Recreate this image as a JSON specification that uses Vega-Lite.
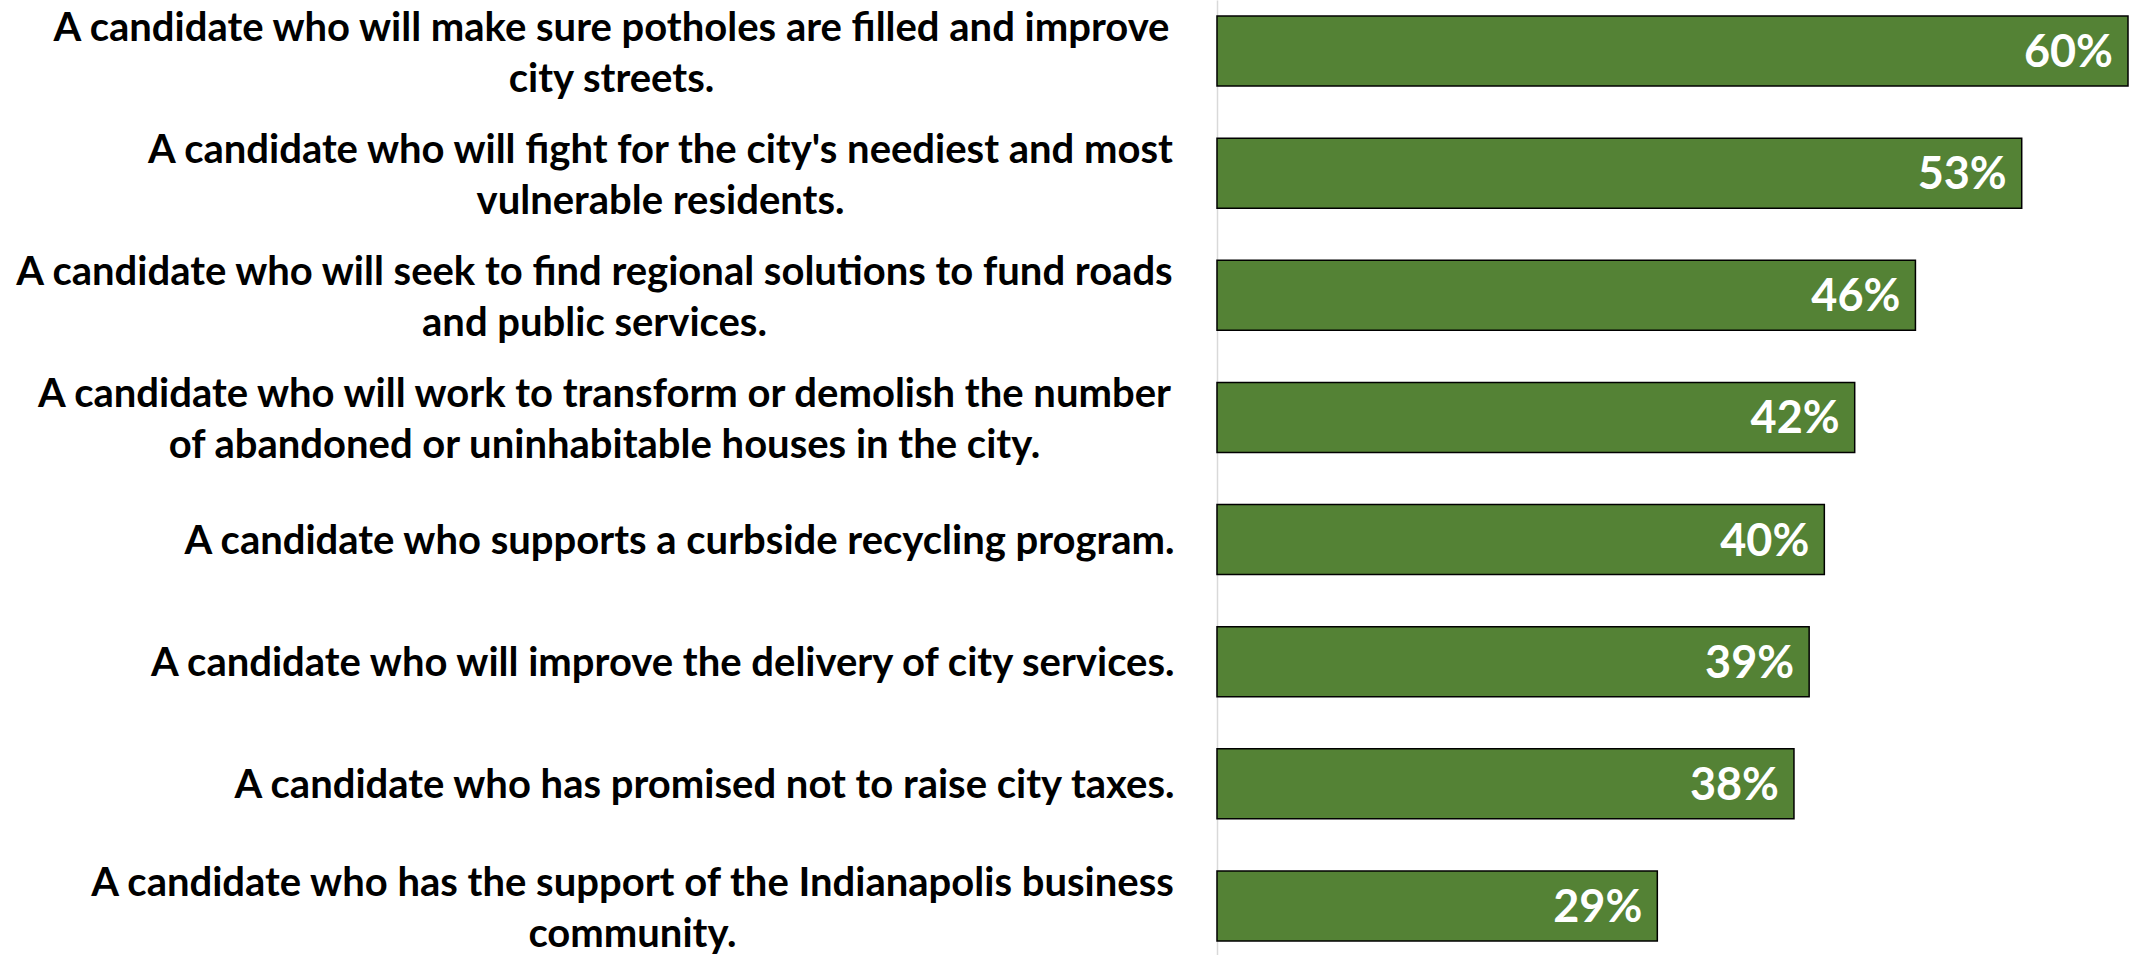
{
  "$schema": "https://vega.github.io/schema/vega-lite/v6.json",
  "width": 911,
  "height": 957,
  "autosize": "none",
  "padding": {"left": 1217, "top": 0, "right": 3, "bottom": 0},
  "background": "white",
  "config": {"view": {"stroke": null}},
  "data": {
    "values": [
      {"statement": "A candidate who will make sure potholes are filled and improve|city streets.", "pct": 0.60},
      {"statement": "A candidate who will fight for the city's neediest and most|vulnerable residents.", "pct": 0.53},
      {"statement": "A candidate who will seek to find regional solutions to fund roads|and public services.", "pct": 0.46},
      {"statement": "A candidate who will work to transform or demolish the number|of abandoned or uninhabitable houses in the city.", "pct": 0.42},
      {"statement": "A candidate who supports a curbside recycling program.", "pct": 0.40},
      {"statement": "A candidate who will improve the delivery of city services.", "pct": 0.39},
      {"statement": "A candidate who has promised not to raise city taxes.", "pct": 0.38},
      {"statement": "A candidate who has the support of the Indianapolis business|community.", "pct": 0.29}
    ]
  },
  "encoding": {
    "y": {
      "field": "statement",
      "type": "nominal",
      "sort": null,
      "scale": {"paddingInner": 0.427, "paddingOuter": 0.131},
      "axis": {
        "title": null,
        "ticks": false,
        "domainColor": "#d9d9d9",
        "domainWidth": 1.5,
        "labelFont": "Lato",
        "labelFontSize": 40,
        "labelFontWeight": "bold",
        "labelColor": "#000000",
        "labelLimit": 0,
        "labelLineHeight": 51,
        "labelBaseline": "middle",
        "labelExpr": "split(datum.label, '|')",
        "labelAlign": {"condition": {"test": "indexof(datum.value, '|') >= 0", "value": "center"}, "value": "right"},
        "labelOffset": {"condition": {"test": "indexof(datum.value, '|') >= 0", "value": -22}, "value": 2},
        "labelPadding": {
          "condition": [
            {"test": "indexof(datum.value, 'potholes') >= 0", "value": 606},
            {"test": "indexof(datum.value, 'neediest') >= 0", "value": 557},
            {"test": "indexof(datum.value, 'regional') >= 0", "value": 623},
            {"test": "indexof(datum.value, 'demolish') >= 0", "value": 613},
            {"test": "indexof(datum.value, 'Indianapolis') >= 0", "value": 585}
          ],
          "value": 43
        }
      }
    }
  },
  "layer": [
    {
      "mark": {"type": "bar", "fill": "#548235", "stroke": "#000000", "strokeWidth": 1.5},
      "encoding": {
        "x": {"field": "pct", "type": "quantitative", "scale": {"domain": [0, 0.6]}, "axis": null}
      }
    },
    {
      "mark": {
        "type": "text",
        "align": "right",
        "baseline": "middle",
        "dx": -15,
        "dy": 2,
        "color": "#ffffff",
        "font": "Lato",
        "fontSize": 45,
        "fontWeight": "bold"
      },
      "encoding": {
        "x": {"field": "pct", "type": "quantitative"},
        "text": {"field": "pct", "type": "quantitative", "format": ".0%"}
      }
    }
  ]
}
